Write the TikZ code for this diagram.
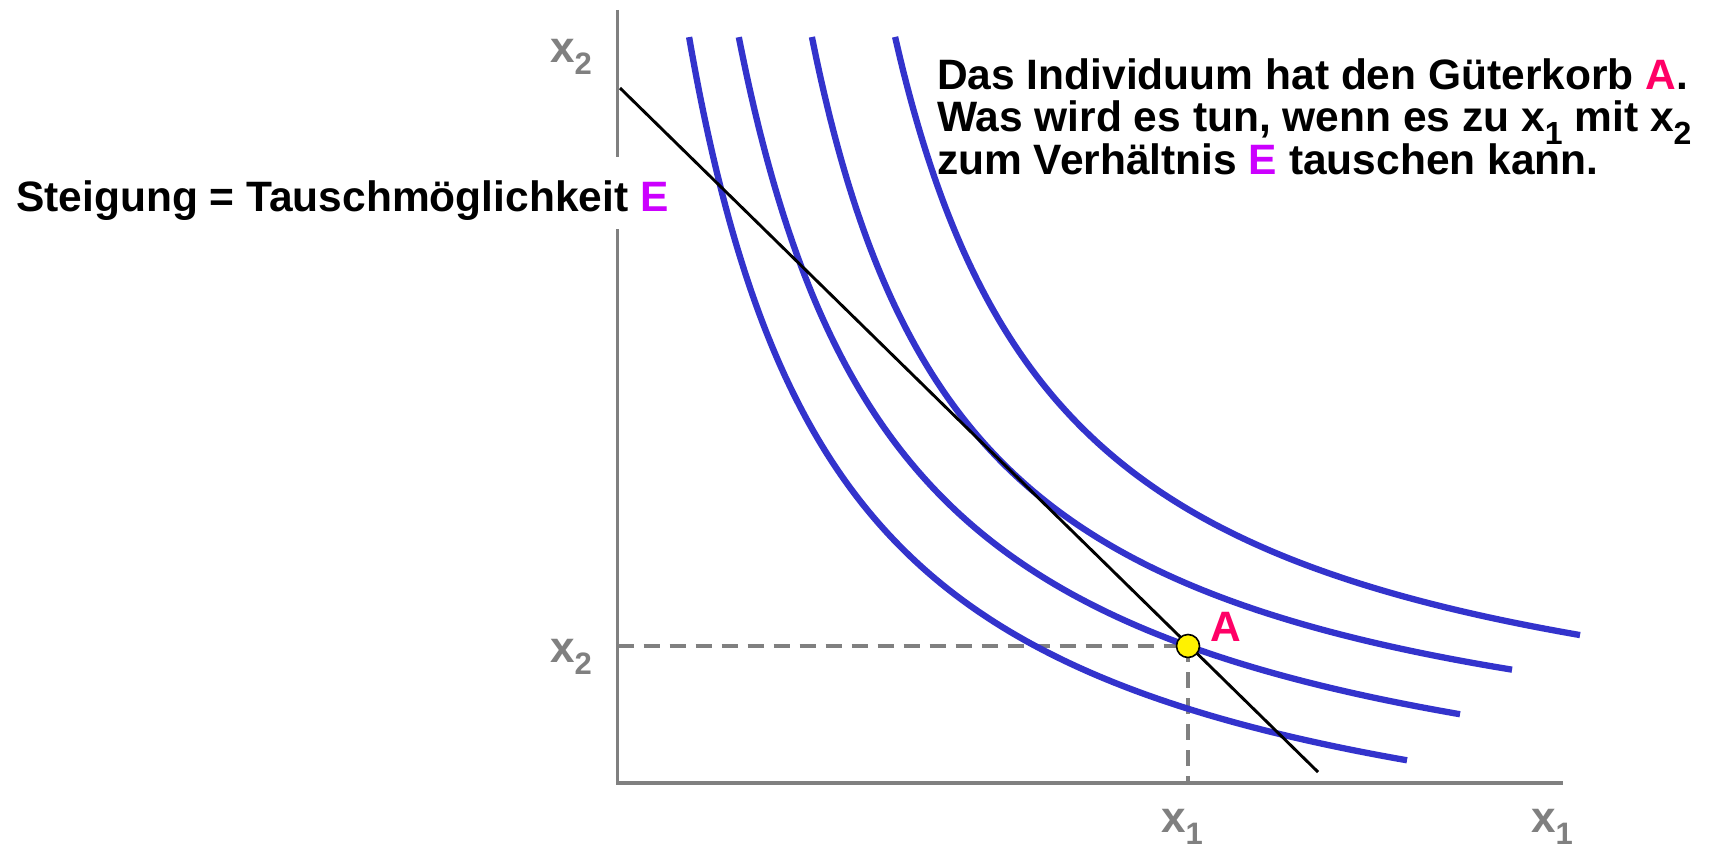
\documentclass[tikz,border=0pt]{standalone}
\usepackage{fontspec}
\setmainfont{Liberation Sans}
\definecolor{curveblue}{HTML}{3333CC}
\definecolor{axisgray}{HTML}{808080}
\definecolor{ptred}{HTML}{FF0066}
\definecolor{emag}{HTML}{CC00FF}
\newcommand{\gsub}[1]{\raisebox{-12pt}{\fontsize{31}{31}\selectfont #1}}
\newcommand{\bsub}[1]{\raisebox{-13pt}{\fontsize{32}{32}\selectfont #1}}
\begin{document}
\begin{tikzpicture}[x=1pt,y=-1pt,
  axisline/.style={draw=axisgray, line width=3.6pt},
  guide/.style={draw=axisgray, line width=3.4pt, dash pattern=on 16pt off 10pt},
  indiff/.style={draw=curveblue, line width=6.3pt},
  budget/.style={draw=black, line width=2.9pt},
  axlabel/.style={text=axisgray, font=\bfseries\fontsize{44}{44}\selectfont, inner sep=0pt, anchor=base west},
  bigtext/.style={font=\bfseries\fontsize{42.5}{42.5}\selectfont, inner sep=0pt, anchor=base west},
]
\path[fill=white, use as bounding box] (0,0) rectangle (1710,843);

% axes
\coordinate (ytop) at (617.5,10);
\coordinate (O) at (617.5,783);
\coordinate (xend) at (1563,783);
\draw[axisline, line join=miter] (ytop) -- (O) -- (xend);

% point A position and guides
\coordinate (Apos) at (1188,646);
\draw[guide] (O |- Apos) -- (Apos);
\draw[guide] (Apos) -- (Apos |- O);

% indifference curves
\draw[indiff] plot[domain=689.1:1407, samples=300] (\x, {913.5-133.3/((\x-537)/1000)});
\draw[indiff] plot[domain=738.8:1460, samples=300] (\x, {868-136.086/((\x-575)/1000)});
\draw[indiff] plot[domain=811.9:1512, samples=300] (\x, {810.1-120.14/((\x-656.5)/1000)});
\draw[indiff] plot[domain=895.1:1580, samples=300] (\x, {783.6-127/((\x-725)/1000)});

% budget line
\coordinate (L1) at (620,88);
\coordinate (L2) at (1318,772);
\draw[budget] (L1) -- (L2);

% slope label with white box
\node[bigtext, fill=white, inner xsep=20pt, inner ysep=0pt, text height=54pt, text depth=18pt] (steig) at (-4,211) {Steigung = Tauschmöglichkeit \textcolor{emag}{E}};

% point A
\node[circle, fill=yellow, draw=black, line width=1.6pt, minimum size=23pt, inner sep=0pt] (A) at (Apos) {};
\node[bigtext, text=ptred] (Alab) at (1210,641) {A};

% axis labels
\node[axlabel] (x2top) at (550,63) {x\gsub{2}};
\node[axlabel] (x2mid) at (550,662) {x\gsub{2}};
\node[axlabel] (x1mid) at (1161,832) {x\gsub{1}};
\node[axlabel] (x1end) at (1531,832) {x\gsub{1}};

% question text
\node[bigtext] (q1) at (937,89) {Das Individuum hat den Güterkorb \textcolor{ptred}{A}.};
\node[bigtext] (q2) at (937,131.5) {Was wird es tun, wenn es zu x\bsub{1} mit x\bsub{2}};
\node[bigtext] (q3) at (937,174) {zum Verhältnis \textcolor{emag}{E} tauschen kann.};
\end{tikzpicture}
\end{document}
